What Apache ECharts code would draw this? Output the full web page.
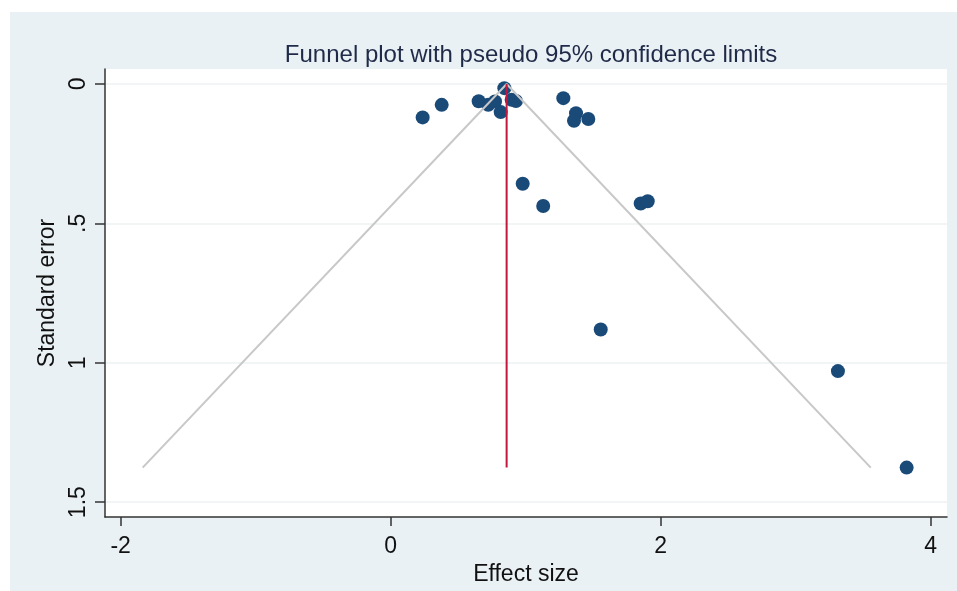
<!DOCTYPE html>
<html>
<head>
<meta charset="utf-8">
<script src="https://cdn.jsdelivr.net/npm/echarts@6/dist/echarts.min.js"></script>
<style>
  html, body { margin: 0; padding: 0; background: #fff; }
  #chart { width: 957px; height: 591px; }
</style>
</head>
<body>
<div id="chart"></div>
<script>
// study points: [effect size, standard error]
const studies = [
  [0.237, 0.120], [0.378, 0.075], [0.652, 0.062], [0.723, 0.075],
  [0.773, 0.063], [0.842, 0.015], [0.815, 0.101], [0.896, 0.057],
  [0.928, 0.061], [1.279, 0.051], [1.373, 0.105], [1.358, 0.132],
  [1.464, 0.126], [0.978, 0.358], [1.130, 0.438], [1.852, 0.429],
  [1.904, 0.421], [1.556, 0.881], [3.313, 1.030], [3.822, 1.376]
];
// pseudo 95% limits (left end, apex, right end)
const funnel = [[-1.837, 1.376], [0.859, 0], [3.556, 1.376]];
// pooled effect line
const pooled = [[0.859, 0], [0.859, 1.376]];

const xTicks = [-2, 0, 2, 4];
const yTicks = [0, 0.5, 1, 1.5];

const font = "'Liberation Sans', Arial, sans-serif";

const chart = echarts.init(document.getElementById("chart"));
chart.setOption({
  animation: false,
  backgroundColor: "#fff",
  graphic: [
    {
      type: "rect",
      z: -10,
      shape: { x: 10, y: 12, width: 947, height: 579 },
      style: { fill: "#eaf1f4" }
    }
  ],
  title: {
    text: "Funnel plot with pseudo 95% confidence limits",
    left: 526,
    top: 38,
    textAlign: "center",
    textStyle: { fontFamily: font, fontSize: 24, fontWeight: "normal", color: "#1f2a48" }
  },
  grid: {
    left: 105,
    right: 10,
    top: 69,
    bottom: 72,
    show: true,
    backgroundColor: "#fff",
    borderWidth: 0
  },
  xAxis: {
    type: "value",
    min: -2.116,
    max: 4.121,
    name: "Effect size",
    nameLocation: "middle",
    nameGap: 40,
    nameTextStyle: { fontFamily: font, fontSize: 23, color: "#111" },
    axisLine: { onZero: false, lineStyle: { color: "#333", width: 1.5 } },
    axisTick: { show: true, inside: false, length: 9, customValues: xTicks, lineStyle: { color: "#333", width: 1.5 } },
    axisLabel: { customValues: xTicks, margin: 18, fontFamily: font, fontSize: 23, color: "#111", formatter: v => String(v) },
    splitLine: { show: false }
  },
  yAxis: {
    type: "value",
    inverse: true,
    min: -0.0536,
    max: 1.5536,
    name: "Standard error",
    nameLocation: "middle",
    nameGap: 29,
    nameTextStyle: { fontFamily: font, fontSize: 23, color: "#111" },
    axisLine: { show: true, onZero: false, lineStyle: { color: "#333", width: 1.5 } },
    axisTick: { show: true, inside: false, length: 10, customValues: yTicks, lineStyle: { color: "#333", width: 1.5 } },
    axisLabel: {
      customValues: yTicks,
      rotate: 90,
      margin: 15,
      fontFamily: font,
      fontSize: 23,
      color: "#111",
      formatter: v => (v === 0 ? "0" : String(v).replace(/^0\./, "."))
    },
    splitLine: { show: true, lineStyle: { color: "#eef2f3", width: 1.5 } }
  },
  series: [
    {
      type: "scatter",
      data: studies,
      symbolSize: 14,
      itemStyle: { color: "#1a4a78", opacity: 1 },
      z: 2
    },
    {
      type: "line",
      data: funnel,
      showSymbol: false,
      lineStyle: { color: "#c8c8c8", width: 2 },
      z: 3
    },
    {
      type: "line",
      data: pooled,
      showSymbol: false,
      lineStyle: { color: "#c3173f", width: 2 },
      z: 4
    }
  ]
});
</script>
</body>
</html>
